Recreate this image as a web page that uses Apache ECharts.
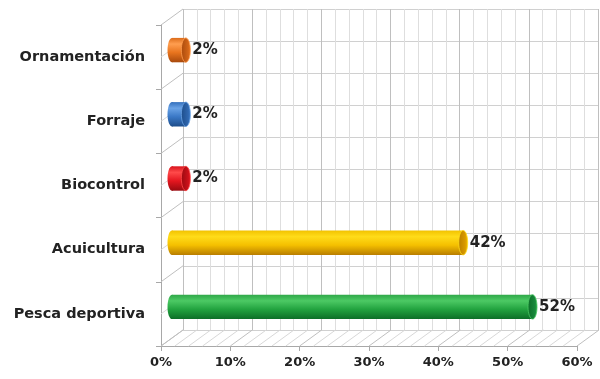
<!DOCTYPE html>
<html>
<head>
<meta charset="utf-8">
<script src="https://cdn.jsdelivr.net/npm/echarts@6/dist/echarts.min.js"></script>
<style>
  html, body { margin: 0; padding: 0; background: #fff; }
  #chart { width: 600px; height: 379px; }
</style>
</head>
<body>
<div id="chart"></div>
<script>
// Uses of the fishery resource (share of responses)
const categories = ['Pesca deportiva', 'Acuicultura', 'Biocontrol', 'Forraje', 'Ornamentación'];
const values = [52, 42, 2, 2, 2];
const barColors = [
  { top: '#2fa848', light: '#4cc964', base: '#22a33f', dark: '#0c6e27', cap: '#17873a' },
  { top: '#f2c200', light: '#ffdc1a', base: '#f5c000', dark: '#b97e00', cap: '#d99a00' },
  { top: '#d8141c', light: '#ff4a4a', base: '#e4161f', dark: '#990a10', cap: '#c8111a' },
  { top: '#3470bd', light: '#6aa3e6', base: '#3a78c6', dark: '#1d4d8a', cap: '#2f66ad' },
  { top: '#dc6c1a', light: '#ff9e50', base: '#e8741e', dark: '#a8490c', cap: '#d06418' }
];
const xMax = 60;

// Perspective offset between front plane and back wall
const DX = 22, DY = 16;
const front = { left: 161, right: 23, top: 25, bottom: 33 };
const back = { left: front.left + DX, right: front.right - DX + 1, top: front.top - DY, bottom: front.bottom + DY };
const mid = { left: front.left + DX / 2, right: front.right - DX / 2, top: front.top - DY / 2 + 1, bottom: front.bottom + DY / 2 - 1 };

const textColor = '#222222';
const fontFamily = '"DejaVu Sans", Lato, sans-serif';

// Grid lines on the floor (every 2%) and on the left side wall (every half band)
const floorSteps = [];
for (let v = 0; v <= xMax; v += 2) floorSteps.push(v);
const sideSteps = [];
for (let k = 0; k <= categories.length * 2; k++) sideSteps.push(k);

function cylinder(params, api) {
  const i = params.dataIndex;
  const val = api.value(1);
  const start = api.coord([0, i]);
  const end = api.coord([val, i]);
  const h = api.size([0, 1])[1] * 0.38;
  const cy = start[1];
  const x0 = start[0];
  const x1 = end[0];
  const c = barColors[i];
  const bodyFill = new echarts.graphic.LinearGradient(0, 0, 0, 1, [
    { offset: 0, color: c.top },
    { offset: 0.25, color: c.light },
    { offset: 0.6, color: c.base },
    { offset: 1, color: c.dark }
  ]);
  const capFill = new echarts.graphic.LinearGradient(0, 0, 1, 0, [
    { offset: 0, color: c.dark },
    { offset: 0.7, color: c.cap },
    { offset: 1, color: c.base }
  ]);
  const rx = 4.5;
  return {
    type: 'group',
    children: [
      { type: 'ellipse', shape: { cx: x0, cy: cy, rx: rx, ry: h / 2 }, style: { fill: bodyFill } },
      { type: 'rect', shape: { x: x0, y: cy - h / 2, width: Math.max(x1 - x0, 0), height: h }, style: { fill: bodyFill } },
      { type: 'ellipse', shape: { cx: x1, cy: cy, rx: rx, ry: h / 2 }, style: { fill: capFill, stroke: c.light, lineWidth: 0.8 } },
      {
        type: 'text',
        style: {
          x: x1 + rx + 2, y: cy, text: val + '%',
          fill: textColor, font: 'bold 15px ' + fontFamily,
          verticalAlign: 'middle', align: 'left'
        }
      }
    ]
  };
}

const chart = echarts.init(document.getElementById('chart'), null, { renderer: 'canvas' });

chart.setOption({
  animation: false,
  backgroundColor: '#ffffff',
  grid: [
    Object.assign({ containLabel: false }, back),
    Object.assign({ containLabel: false }, front),
    Object.assign({ containLabel: false }, mid)
  ],
  xAxis: [
    // back wall: minor verticals
    { gridIndex: 0, type: 'value', min: 0, max: xMax, interval: 2,
      axisLine: { show: false }, axisTick: { show: false }, axisLabel: { show: false },
      splitLine: { lineStyle: { color: '#dedede', width: 1 } } },
    // back wall: major verticals
    { gridIndex: 0, type: 'value', min: 0, max: xMax, interval: 10,
      axisLine: { show: false }, axisTick: { show: false }, axisLabel: { show: false },
      splitLine: { lineStyle: { color: '#bfbfbf', width: 1 } } },
    // front value axis
    { gridIndex: 1, type: 'value', min: 0, max: xMax, interval: 10, position: 'bottom',
      axisLine: { show: true, lineStyle: { color: '#a8a8a8' } },
      axisTick: { show: true, inside: false, length: 5, lineStyle: { color: '#a8a8a8' } },
      axisLabel: { formatter: '{value}%', color: textColor, fontSize: 13, fontWeight: 'bold', fontFamily: fontFamily, margin: 10 },
      splitLine: { show: false } },
    // bar plane
    { gridIndex: 2, type: 'value', min: 0, max: xMax, show: false }
  ],
  yAxis: [
    { gridIndex: 0, type: 'value', min: 0, max: categories.length * 2, interval: 1,
      axisLine: { show: false }, axisTick: { show: false }, axisLabel: { show: false },
      splitLine: { lineStyle: { color: '#d0d0d0', width: 1 } } },
    { gridIndex: 1, type: 'category', data: categories, boundaryGap: true,
      axisLine: { show: true, lineStyle: { color: '#a8a8a8' } },
      axisTick: { show: true, length: 5, lineStyle: { color: '#a8a8a8' } },
      axisLabel: { color: textColor, fontSize: 14.5, fontWeight: 'bold', fontFamily: fontFamily, margin: 16 } },
    { gridIndex: 2, type: 'category', data: categories, show: false }
  ],
  series: [
    // floor lines running into depth
    {
      type: 'custom', xAxisIndex: 2, yAxisIndex: 1, silent: true, z: 1,
      data: floorSteps.map(v => [v, 0]),
      renderItem: function (params, api) {
        const v = api.value(0);
        const x = api.coord([v, 0])[0];
        const yb = params.coordSys.y + params.coordSys.height;
        return { type: 'line', shape: { x1: x, y1: yb, x2: x + DX, y2: yb - DY },
          style: { stroke: v % 10 === 0 ? '#bfbfbf' : '#d8d8d8', lineWidth: 1 } };
      }
    },
    // left side wall lines running into depth
    {
      type: 'custom', xAxisIndex: 2, yAxisIndex: 1, silent: true, z: 1,
      data: sideSteps.map(k => [0, k]),
      renderItem: function (params, api) {
        const k = api.value(1);
        const cs = params.coordSys;
        const y = cs.y + k / (categories.length * 2) * cs.height;
        return { type: 'line', shape: { x1: cs.x, y1: y, x2: cs.x + DX, y2: y - DY },
          style: { stroke: k % 2 === 0 ? '#bfbfbf' : '#d8d8d8', lineWidth: 1 } };
      }
    },
    // cylinders
    {
      type: 'custom', xAxisIndex: 3, yAxisIndex: 2, z: 5,
      data: values.map((v, i) => [i, v]),
      encode: { x: 1, y: 0 },
      renderItem: cylinder
    }
  ]
});
</script>
</body>
</html>
